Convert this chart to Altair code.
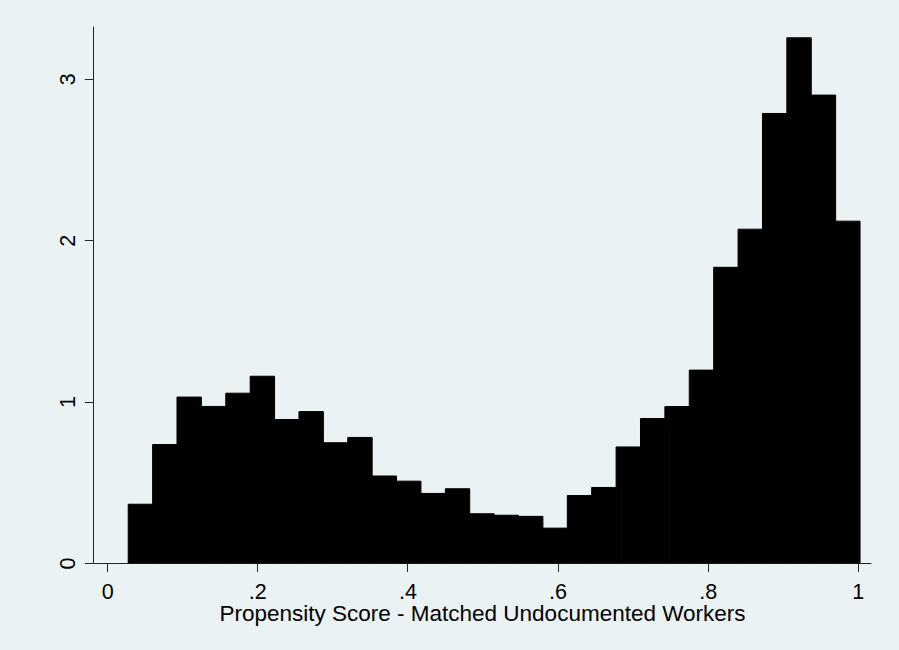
import altair as alt
import pandas as pd

# Histogram bin left edges (propensity score) and the last right edge
bin_left = [0.028, 0.0605, 0.093, 0.1255, 0.158, 0.1905, 0.223, 0.2555, 0.288, 0.3205,
            0.353, 0.3855, 0.418, 0.4505, 0.483, 0.5155, 0.548, 0.5805, 0.613, 0.6455,
            0.678, 0.7105, 0.743, 0.7755, 0.808, 0.8405, 0.873, 0.9055, 0.938, 0.9705]
bin_right_last = 1.003

# Density of each bin
density = [0.364, 0.734, 1.028, 0.970, 1.052, 1.157, 0.889, 0.938, 0.745, 0.778,
           0.539, 0.507, 0.431, 0.460, 0.305, 0.296, 0.289, 0.216, 0.418, 0.468,
           0.719, 0.895, 0.969, 1.195, 1.832, 2.068, 2.785, 3.254, 2.899, 2.118]

x_ticks = [0, 0.2, 0.4, 0.6, 0.8, 1.0]
y_ticks = [0, 1, 2, 3]
x_title = "Propensity Score - Matched Undocumented Workers"

bin_right = bin_left[1:] + [bin_right_last]
df = pd.DataFrame({"x0": bin_left, "x1": bin_right, "d": density})

FONT = "Liberation Sans"
BG = "#EAF2F3"
LFS = 21.5
TFS = 22.5

chart = alt.Chart(df).mark_rect(
    color="#000000", stroke="#000000", strokeWidth=1
).encode(
    x=alt.X("x0:Q",
            scale=alt.Scale(domain=[-0.0189, 1.0176], nice=False, zero=False),
            axis=alt.Axis(values=x_ticks, title=x_title,
                          labelExpr="datum.value == 0 ? '0' : datum.value == 1 ? '1' : replace(format(datum.value, '.1f'), '0.', '.')",
                          tickSize=8.5, labelPadding=9.5, labelFontSize=LFS,
                          titleFontSize=TFS, titleFontWeight="normal",
                          titleY=57, titleBaseline="alphabetic",
                          grid=False)),
    x2="x1:Q",
    y=alt.Y("d:Q",
            scale=alt.Scale(domain=[0, 3.327], nice=False),
            axis=alt.Axis(values=y_ticks, title=None, format="d",
                          labelAngle=270, labelAlign="center", labelBaseline="bottom",
                          tickSize=8.7, labelPadding=4.5, labelFontSize=LFS,
                          grid=False)),
    y2=alt.datum(0),
).properties(
    width=778,
    height=537,
    autosize=alt.AutoSizeParams(type="none"),
    padding={"left": 93, "top": 26, "right": 28, "bottom": 87},
    background=BG,
).configure_view(
    stroke=None
).configure_axis(
    domainColor="#262626",
    domainWidth=1,
    tickColor="#262626",
    tickWidth=1,
    labelColor="#000000",
    titleColor="#000000",
    labelFont=FONT,
    titleFont=FONT,
)

chart.save("out.html", embed_options={"renderer": "svg", "actions": False})
